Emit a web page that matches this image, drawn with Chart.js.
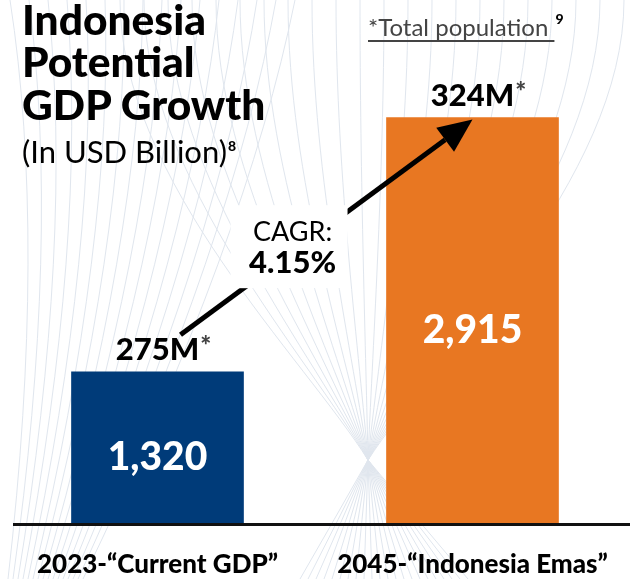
<!DOCTYPE html>
<html>
<head>
<meta charset="utf-8">
<script src="https://cdn.jsdelivr.net/npm/chart.js@4.4.1/dist/chart.umd.min.js"></script>
<style>
  html, body { margin: 0; padding: 0; background: #fff; overflow: hidden; }
  #wrap { position: relative; width: 630px; height: 579px; }
  #gdpChart { position: absolute; left: 0; top: 0; }
  .title {
    position: absolute; left: 22px; top: -2.5px;
    font-family: Lato, sans-serif; font-weight: 900; font-size: 42.5px;
    line-height: 42.5px; color: #000; white-space: nowrap;
  }
  .subtitle {
    position: absolute; left: 22px; top: 129.5px;
    font-family: Lato, sans-serif; font-weight: 400; font-size: 31px;
    line-height: 31px; color: #000; white-space: nowrap;
  }
  .subtitle sup, .note sup { font-weight: 900; font-size: 14px; vertical-align: 12px; margin-left: 1px; color: #000; }
  .note {
    position: absolute; left: 368px; top: 6.7px;
    font-family: Lato, sans-serif; font-size: 24px; line-height: 24px;
    color: #444; white-space: nowrap;
  }
  .note u { text-decoration-thickness: 1.5px; text-underline-offset: 4px; }
</style>
</head>
<body>
<div id="wrap">
  <canvas id="gdpChart" width="630" height="579"></canvas>
  <div class="title">Indonesia<br>Potential<br>GDP Growth</div>
  <div class="subtitle">(In USD Billion)<sup>8</sup></div>
  <div class="note"><u>*Total population </u><sup>9</sup></div>
</div>
<script>
/* data */
const categories = ["2023-\u201cCurrent GDP\u201d", "2045-\u201cIndonesia Emas\u201d"];
const gdpValues = [1320, 2915];
const valueLabels = ["1,320", "2,915"];
const populationLabels = ["275M", "324M"];
const cagrText = ["CAGR:", "4.15%"];
const barColors = ["#003b79", "#e87722"];

const FONT = "Lato, sans-serif";

// faint sweeping lines behind everything
const backdrop = {
  id: "backdrop",
  beforeDraw(chart) {
    const ctx = chart.ctx;
    ctx.save();
    ctx.fillStyle = "#fff";
    ctx.fillRect(0, 0, chart.width, chart.height);
    ctx.strokeStyle = "#e0e6ee";
    ctx.lineWidth = 1;
    const px = 368, py = 460;
    for (let i = 0; i < 22; i++) {
      const xt = 120 + i * 24;
      const xb = 300 + i * 8;
      ctx.beginPath();
      ctx.moveTo(xt, 0);
      ctx.bezierCurveTo(xt, 180, px + (xt - px) * 0.25, 360, px, py);
      ctx.quadraticCurveTo(px + (xb - px) * 0.5, 520, xb, 579);
      ctx.stroke();
    }
    for (let i = 0; i < 16; i++) {
      const xt = 10 + i * 19;
      ctx.beginPath();
      ctx.moveTo(xt, 0);
      ctx.quadraticCurveTo(xt * 0.7 + 40, 240, 8 + i * 5, 579);
      ctx.stroke();
    }
    ctx.restore();
  },
};

// baseline, value labels, population labels, CAGR arrow
const annotations = {
  id: "annotations",
  afterDatasetsDraw(chart) {
    const ctx = chart.ctx;
    const bars = chart.getDatasetMeta(0).data;
    const area = chart.chartArea;
    ctx.save();

    // baseline
    ctx.strokeStyle = "#111";
    ctx.lineWidth = 3;
    ctx.beginPath();
    ctx.moveTo(13, area.bottom + 1.5);
    ctx.lineTo(chart.width, area.bottom + 1.5);
    ctx.stroke();

    // numbers inside bars
    ctx.fillStyle = "#fff";
    ctx.font = "900 39px " + FONT;
    ctx.textAlign = "center";
    ctx.textBaseline = "alphabetic";
    bars.forEach((b, i) => {
      ctx.fillText(valueLabels[i], b.x, (b.y + area.bottom) / 2 + 23);
    });

    // population above bars
    bars.forEach((b, i) => {
      ctx.font = "900 31px " + FONT;
      ctx.fillStyle = "#000";
      ctx.textAlign = "center";
      const y = b.y - 12;
      ctx.fillText(populationLabels[i], b.x, y);
      const w = ctx.measureText(populationLabels[i]).width;
      ctx.font = "900 26px " + FONT;
      ctx.fillStyle = "#444";
      ctx.textAlign = "left";
      ctx.fillText("*", b.x + w / 2 + 1, y - 5);
    });

    // arrow
    const a = bars[0], c = bars[1];
    const x0 = a.x + 23, y0 = a.y - 37;
    const x1 = c.x, y1 = c.y + 2;
    const ang = Math.atan2(y1 - y0, x1 - x0);
    const headLen = 34, headW = 15;
    const bx = x1 - headLen * Math.cos(ang), by = y1 - headLen * Math.sin(ang);
    ctx.strokeStyle = "#000";
    ctx.lineWidth = 5;
    ctx.beginPath();
    ctx.moveTo(x0, y0);
    ctx.lineTo(bx, by);
    ctx.stroke();
    ctx.fillStyle = "#000";
    ctx.beginPath();
    ctx.moveTo(x1, y1);
    ctx.lineTo(bx + headW * Math.sin(ang), by - headW * Math.cos(ang));
    ctx.lineTo(bx - headW * Math.sin(ang), by + headW * Math.cos(ang));
    ctx.closePath();
    ctx.fill();

    // CAGR box on the arrow
    const t = 0.37;
    const cx = x0 + (x1 - x0) * t, cy = y0 + (y1 - y0) * t - 8;
    ctx.fillStyle = "#fff";
    ctx.fillRect(cx - 58, cy - 42, 117, 83);
    ctx.fillStyle = "#000";
    ctx.textAlign = "center";
    ctx.font = "27px " + FONT;
    ctx.fillText(cagrText[0], cx + 4, cy - 6);
    ctx.font = "900 31px " + FONT;
    ctx.fillText(cagrText[1], cx + 4, cy + 26);

    ctx.restore();
  },
};

function drawChart() {
  new Chart(document.getElementById("gdpChart"), {
    type: "bar",
    data: {
      labels: categories,
      datasets: [
        {
          data: gdpValues,
          backgroundColor: barColors,
          barThickness: 172,
          borderWidth: 0,
        },
      ],
    },
    options: {
      responsive: false,
      animation: false,
      layout: { padding: { top: 104, left: 0, right: 0, bottom: 0 } },
      plugins: { legend: { display: false }, tooltip: { enabled: false } },
      scales: {
        x: {
          grid: { display: false, drawTicks: false },
          border: { display: false },
          ticks: {
            color: "#000",
            font: { family: FONT, size: 26, weight: "900" },
            padding: 26,
            maxRotation: 0,
            autoSkip: false,
          },
          afterFit(scale) {
            scale.height = 56;
            // labels may overhang the edges; keep the full width for the bars
            scale.paddingLeft = 0;
            scale.paddingRight = 0;
          },
        },
        y: { display: false, min: 372, max: 3000 },
      },
    },
    plugins: [backdrop, annotations],
  });
}

Promise.all([
  document.fonts.load("900 31px Lato"),
  document.fonts.load("400 27px Lato"),
]).then(drawChart, drawChart);
</script>
</body>
</html>
